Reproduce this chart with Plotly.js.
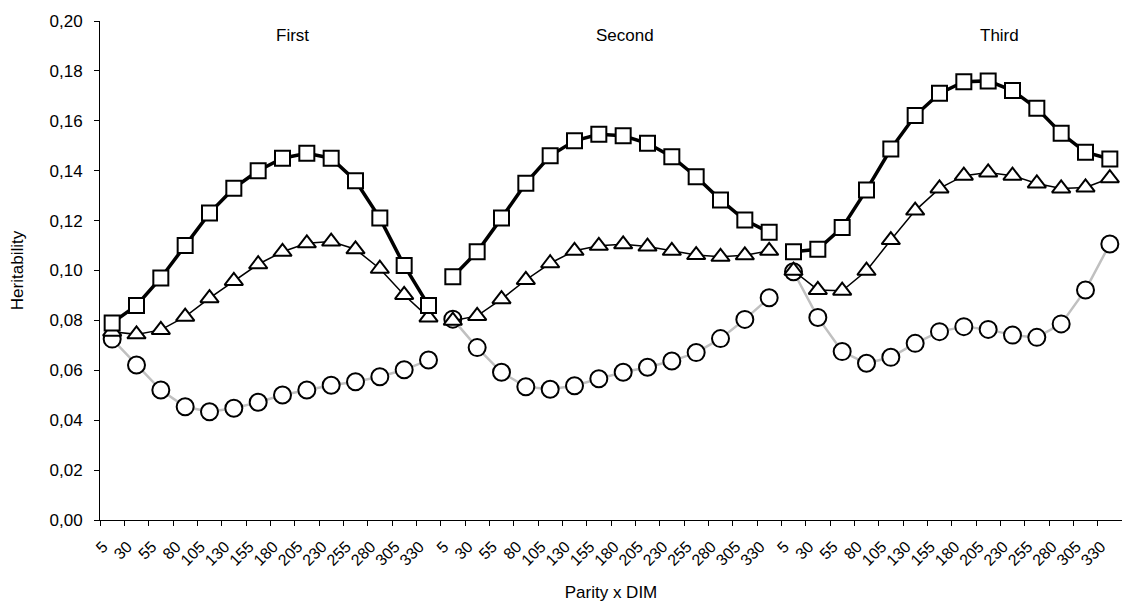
<!DOCTYPE html>
<html>
<head>
<meta charset="utf-8">
<script src="https://cdn.plot.ly/plotly-3.0.1.min.js"></script>
<style>
  html, body { margin: 0; padding: 0; background: #fff; }
  #chart { width: 1122px; height: 604px; }
</style>
</head>
<body>
<div id="chart"></div>
<script>
// Days in milk within each parity
const dim = [5, 30, 55, 80, 105, 130, 155, 180, 205, 230, 255, 280, 305, 330];
const parities = ['First', 'Second', 'Third'];

// Heritability estimates, 14 per parity
const squares = [
  0.079, 0.086, 0.097, 0.110, 0.123, 0.133, 0.140, 0.145, 0.147, 0.145, 0.136, 0.121, 0.102, 0.086,
  0.0975, 0.1075, 0.121, 0.135, 0.146, 0.152, 0.1546, 0.154, 0.151, 0.1456, 0.1376, 0.1283, 0.1202, 0.1153,
  0.1075, 0.1085, 0.1172, 0.1323, 0.1487, 0.1621, 0.171, 0.1757, 0.176, 0.1721, 0.165, 0.155, 0.1474, 0.1447
];
const triangles = [
  0.0755, 0.0744, 0.0762, 0.0815, 0.0889, 0.0958, 0.1025, 0.1075, 0.1109, 0.1116, 0.1085, 0.1007, 0.0902, 0.0812,
  0.0799, 0.0818, 0.0885, 0.0962, 0.1029, 0.1079, 0.1099, 0.1105, 0.1096, 0.1079, 0.1062, 0.1055, 0.1061, 0.1079,
  0.0999, 0.0922, 0.0919, 0.0999, 0.1122, 0.124, 0.1329, 0.138, 0.1393, 0.138, 0.1349, 0.1329, 0.1333, 0.137
];
const circles = [
  0.0725, 0.0621, 0.0521, 0.0454, 0.0434, 0.0448, 0.0472, 0.0501, 0.0521, 0.054, 0.0554, 0.0574, 0.0602, 0.0641,
  0.0805, 0.0691, 0.0592, 0.0534, 0.0524, 0.0538, 0.0566, 0.0592, 0.0612, 0.0637, 0.0671, 0.0727, 0.0804, 0.0891,
  0.0995, 0.0812, 0.0675, 0.0628, 0.0652, 0.0708, 0.0755, 0.0775, 0.0764, 0.0741, 0.0732, 0.0786, 0.0922, 0.1106
];

// unique category keys and the displayed tick labels
const cats = [];
const catLabels = [];
parities.forEach(p => dim.forEach(d => { cats.push(p + ' ' + d); catLabels.push(String(d)); }));

const FONT = '"Liberation Sans", Arial, Helvetica, sans-serif';
const n = dim.length;

const seriesDefs = [
  { name: 'circles', data: circles, line: { color: '#c0c0c0', width: 2.5 },
    marker: { symbol: 'circle', size: 17, color: '#ffffff', line: { color: '#000000', width: 2 } } },
  { name: 'triangles', data: triangles, line: { color: '#000000', width: 1.5 },
    marker: { symbol: 'triangle-up', size: 16, color: '#ffffff', line: { color: '#000000', width: 2 } } },
  { name: 'squares', data: squares, line: { color: '#000000', width: 3.5 },
    marker: { symbol: 'square', size: 15, color: '#ffffff', line: { color: '#000000', width: 2 } } }
];

const traces = [];
seriesDefs.forEach(s => {
  parities.forEach((p, pi) => {
    traces.push({
      type: 'scatter', mode: 'lines+markers',
      name: s.name + ' ' + p,
      x: cats.slice(pi * n, pi * n + n),
      y: s.data.slice(pi * n, pi * n + n),
      line: s.line, marker: s.marker,
      showlegend: false, hoverinfo: 'x+y'
    });
  });
});

const annotations = parities.map((p, pi) => ({
  text: p, xref: 'x', yref: 'paper',
  x: [7.43, 21.08, 36.45][pi], y: 0.97,
  showarrow: false, xanchor: 'center', yanchor: 'middle',
  font: { family: FONT, size: 17, color: '#000' }
}));

const layout = {
  width: 1122, height: 604,
  margin: { l: 100, r: 0, t: 21, b: 84, pad: 0 },
  paper_bgcolor: '#ffffff', plot_bgcolor: '#ffffff',
  separators: ',.',
  showlegend: false,
  font: { family: FONT, size: 17, color: '#000' },
  xaxis: {
    type: 'category',
    categoryorder: 'array', categoryarray: cats,
    range: [-0.5, cats.length - 0.5],
    tickmode: 'array', tickvals: cats, ticktext: catLabels,
    tickson: 'boundaries',
    ticks: 'outside', ticklen: 5, tickwidth: 1, tickcolor: '#000',
    tickangle: -45,
    ticklabelstandoff: 10,
    ticklabelshift: -9,
    tickfont: { family: FONT, size: 16, color: '#000' },
    showline: true, linecolor: '#000', linewidth: 1,
    showgrid: false, zeroline: false,
    title: { text: 'Parity x DIM', font: { family: FONT, size: 17, color: '#000' }, standoff: 18 },
    automargin: false
  },
  yaxis: {
    range: [0, 0.2],
    tickmode: 'linear', tick0: 0, dtick: 0.02,
    tickformat: '.2f',
    ticks: 'outside', ticklen: 5, tickwidth: 1, tickcolor: '#000',
    ticklabelstandoff: 8,
    tickfont: { family: FONT, size: 17, color: '#000' },
    showline: true, linecolor: '#000', linewidth: 1,
    showgrid: false, zeroline: false,
    title: { text: 'Heritability', font: { family: FONT, size: 17, color: '#000' }, standoff: 21 },
    automargin: false
  },
  annotations: annotations
};

Plotly.newPlot('chart', traces, layout, { displayModeBar: false, staticPlot: true });
</script>
</body>
</html>
